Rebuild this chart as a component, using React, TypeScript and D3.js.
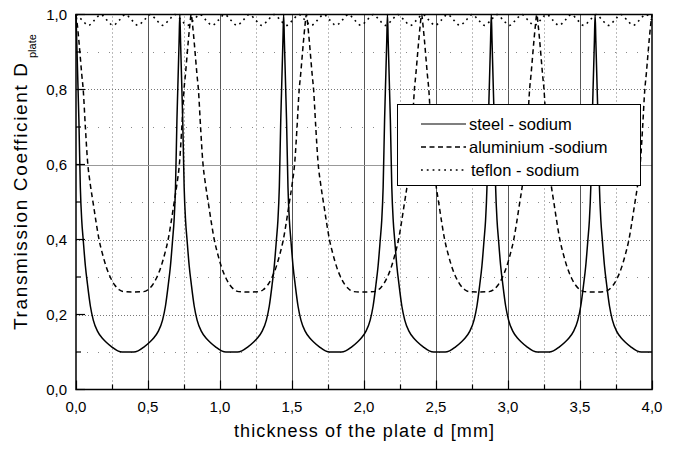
import React from 'react';
import * as d3 from 'd3';

// thickness d [mm] , transmission coefficient D
const steel: [number, number][] = [
  [0, 1], [0.005, 0.93], [0.01, 0.86], [0.015, 0.79], [0.02, 0.72], [0.03, 0.54], [0.04, 0.45], [0.05, 0.40], [0.065, 0.33], [0.08, 0.28], [0.1, 0.222], [0.12, 0.185], [0.15, 0.155], [0.18, 0.138], [0.21, 0.126], [0.25, 0.113], [0.29, 0.103], [0.32, 0.1],
  [0.401, 0.1], [0.431, 0.103], [0.471, 0.113], [0.511, 0.126], [0.541, 0.138], [0.571, 0.155], [0.601, 0.185], [0.621, 0.222], [0.641, 0.28], [0.656, 0.33], [0.671, 0.40], [0.681, 0.45], [0.691, 0.54], [0.701, 0.72], [0.706, 0.79], [0.711, 0.86], [0.716, 0.93], [0.721, 1],
  [0.726, 0.93], [0.731, 0.86], [0.736, 0.79], [0.741, 0.72], [0.751, 0.54], [0.761, 0.45], [0.771, 0.40], [0.786, 0.33], [0.801, 0.28], [0.821, 0.222], [0.841, 0.185], [0.871, 0.155], [0.901, 0.138], [0.931, 0.126], [0.971, 0.113], [1.011, 0.103], [1.041, 0.1],
  [1.122, 0.1], [1.152, 0.103], [1.192, 0.113], [1.232, 0.126], [1.262, 0.138], [1.292, 0.155], [1.322, 0.185], [1.342, 0.222], [1.362, 0.28], [1.377, 0.33], [1.392, 0.40], [1.402, 0.45], [1.412, 0.54], [1.422, 0.72], [1.427, 0.79], [1.432, 0.86], [1.437, 0.93], [1.442, 1],
  [1.447, 0.93], [1.452, 0.86], [1.457, 0.79], [1.462, 0.72], [1.472, 0.54], [1.482, 0.45], [1.492, 0.40], [1.507, 0.33], [1.522, 0.28], [1.542, 0.222], [1.562, 0.185], [1.592, 0.155], [1.622, 0.138], [1.652, 0.126], [1.692, 0.113], [1.732, 0.103], [1.762, 0.1],
  [1.843, 0.1], [1.873, 0.103], [1.913, 0.113], [1.953, 0.126], [1.983, 0.138], [2.013, 0.155], [2.043, 0.185], [2.063, 0.222], [2.083, 0.28], [2.098, 0.33], [2.113, 0.40], [2.123, 0.45], [2.133, 0.54], [2.143, 0.72], [2.148, 0.79], [2.153, 0.86], [2.158, 0.93], [2.163, 1],
  [2.168, 0.93], [2.173, 0.86], [2.178, 0.79], [2.183, 0.72], [2.193, 0.54], [2.203, 0.45], [2.213, 0.40], [2.228, 0.33], [2.243, 0.28], [2.263, 0.222], [2.283, 0.185], [2.313, 0.155], [2.343, 0.138], [2.373, 0.126], [2.413, 0.113], [2.453, 0.103], [2.483, 0.1],
  [2.564, 0.1], [2.594, 0.103], [2.634, 0.113], [2.674, 0.126], [2.704, 0.138], [2.734, 0.155], [2.764, 0.185], [2.784, 0.222], [2.804, 0.28], [2.819, 0.33], [2.834, 0.40], [2.844, 0.45], [2.854, 0.54], [2.864, 0.72], [2.869, 0.79], [2.874, 0.86], [2.879, 0.93], [2.884, 1],
  [2.889, 0.93], [2.894, 0.86], [2.899, 0.79], [2.904, 0.72], [2.914, 0.54], [2.924, 0.45], [2.934, 0.40], [2.949, 0.33], [2.964, 0.28], [2.984, 0.222], [3.004, 0.185], [3.034, 0.155], [3.064, 0.138], [3.094, 0.126], [3.134, 0.113], [3.174, 0.103], [3.204, 0.1],
  [3.285, 0.1], [3.315, 0.103], [3.355, 0.113], [3.395, 0.126], [3.425, 0.138], [3.455, 0.155], [3.485, 0.185], [3.505, 0.222], [3.525, 0.28], [3.54, 0.33], [3.555, 0.40], [3.565, 0.45], [3.575, 0.54], [3.585, 0.72], [3.59, 0.79], [3.595, 0.86], [3.6, 0.93], [3.605, 1],
  [3.61, 0.93], [3.615, 0.86], [3.62, 0.79], [3.625, 0.72], [3.635, 0.54], [3.645, 0.45], [3.655, 0.40], [3.67, 0.33], [3.685, 0.28], [3.705, 0.222], [3.725, 0.185], [3.755, 0.155], [3.785, 0.138], [3.815, 0.126], [3.855, 0.113], [3.895, 0.103], [3.925, 0.1], [4.0, 0.1],
];

const aluminium: [number, number][] = [
  [0, 1], [0.01, 0.97], [0.02, 0.93], [0.03, 0.885], [0.04, 0.84], [0.05, 0.8], [0.065, 0.7], [0.08, 0.61], [0.1, 0.545], [0.12, 0.495], [0.14, 0.445], [0.16, 0.4], [0.185, 0.36], [0.21, 0.327], [0.24, 0.298], [0.27, 0.278], [0.3, 0.266], [0.33, 0.261], [0.4, 0.26],
  [0.47, 0.261], [0.5, 0.266], [0.53, 0.278], [0.56, 0.298], [0.59, 0.327], [0.615, 0.36], [0.64, 0.4], [0.66, 0.445], [0.68, 0.495], [0.7, 0.545], [0.72, 0.61], [0.735, 0.7], [0.75, 0.8], [0.76, 0.84], [0.77, 0.885], [0.78, 0.93], [0.79, 0.97], [0.8, 1],
  [0.81, 0.97], [0.82, 0.93], [0.83, 0.885], [0.84, 0.84], [0.85, 0.8], [0.865, 0.7], [0.88, 0.61], [0.9, 0.545], [0.92, 0.495], [0.94, 0.445], [0.96, 0.4], [0.985, 0.36], [1.01, 0.327], [1.04, 0.298], [1.07, 0.278], [1.1, 0.266], [1.13, 0.261], [1.2, 0.26],
  [1.27, 0.261], [1.3, 0.266], [1.33, 0.278], [1.36, 0.298], [1.39, 0.327], [1.415, 0.36], [1.44, 0.4], [1.46, 0.445], [1.48, 0.495], [1.5, 0.545], [1.52, 0.61], [1.535, 0.7], [1.55, 0.8], [1.56, 0.84], [1.57, 0.885], [1.58, 0.93], [1.59, 0.97], [1.6, 1],
  [1.61, 0.97], [1.62, 0.93], [1.63, 0.885], [1.64, 0.84], [1.65, 0.8], [1.665, 0.7], [1.68, 0.61], [1.7, 0.545], [1.72, 0.495], [1.74, 0.445], [1.76, 0.4], [1.785, 0.36], [1.81, 0.327], [1.84, 0.298], [1.87, 0.278], [1.9, 0.266], [1.93, 0.261], [2.0, 0.26],
  [2.07, 0.261], [2.1, 0.266], [2.13, 0.278], [2.16, 0.298], [2.19, 0.327], [2.215, 0.36], [2.24, 0.4], [2.26, 0.445], [2.28, 0.495], [2.3, 0.545], [2.32, 0.61], [2.335, 0.7], [2.35, 0.8], [2.36, 0.84], [2.37, 0.885], [2.38, 0.93], [2.39, 0.97], [2.4, 1],
  [2.41, 0.97], [2.42, 0.93], [2.43, 0.885], [2.44, 0.84], [2.45, 0.8], [2.465, 0.7], [2.48, 0.61], [2.5, 0.545], [2.52, 0.495], [2.54, 0.445], [2.56, 0.4], [2.585, 0.36], [2.61, 0.327], [2.64, 0.298], [2.67, 0.278], [2.7, 0.266], [2.73, 0.261], [2.8, 0.26],
  [2.87, 0.261], [2.9, 0.266], [2.93, 0.278], [2.96, 0.298], [2.99, 0.327], [3.015, 0.36], [3.04, 0.4], [3.06, 0.445], [3.08, 0.495], [3.1, 0.545], [3.12, 0.61], [3.135, 0.7], [3.15, 0.8], [3.16, 0.84], [3.17, 0.885], [3.18, 0.93], [3.19, 0.97], [3.2, 1],
  [3.21, 0.97], [3.22, 0.93], [3.23, 0.885], [3.24, 0.84], [3.25, 0.8], [3.265, 0.7], [3.28, 0.61], [3.3, 0.545], [3.32, 0.495], [3.34, 0.445], [3.36, 0.4], [3.385, 0.36], [3.41, 0.327], [3.44, 0.298], [3.47, 0.278], [3.5, 0.266], [3.53, 0.261], [3.6, 0.26],
  [3.67, 0.261], [3.7, 0.266], [3.73, 0.278], [3.76, 0.298], [3.79, 0.327], [3.815, 0.36], [3.84, 0.4], [3.86, 0.445], [3.88, 0.495], [3.9, 0.545], [3.92, 0.61], [3.935, 0.7], [3.95, 0.8], [3.96, 0.84], [3.97, 0.885], [3.98, 0.93], [3.99, 0.97], [4.0, 1],
];

const teflon: [number, number][] = [
  [0, 1], [0.043, 0.985], [0.086, 0.971], [0.129, 0.985], [0.172, 1], [0.215, 0.985], [0.258, 0.971], [0.301, 0.985],
  [0.344, 1], [0.387, 0.985], [0.43, 0.971], [0.473, 0.985], [0.516, 1], [0.559, 0.985], [0.602, 0.971], [0.645, 0.985],
  [0.688, 1], [0.731, 0.985], [0.774, 0.971], [0.817, 0.985], [0.86, 1], [0.903, 0.985], [0.946, 0.971], [0.989, 0.985],
  [1.032, 1], [1.075, 0.985], [1.118, 0.971], [1.161, 0.985], [1.204, 1], [1.247, 0.985], [1.29, 0.971], [1.333, 0.985],
  [1.376, 1], [1.419, 0.985], [1.462, 0.971], [1.505, 0.985], [1.548, 1], [1.591, 0.985], [1.634, 0.971], [1.677, 0.985],
  [1.72, 1], [1.763, 0.985], [1.806, 0.971], [1.849, 0.985], [1.892, 1], [1.935, 0.985], [1.978, 0.971], [2.021, 0.985],
  [2.064, 1], [2.107, 0.985], [2.15, 0.971], [2.193, 0.985], [2.236, 1], [2.279, 0.985], [2.322, 0.971], [2.365, 0.985],
  [2.408, 1], [2.451, 0.985], [2.494, 0.971], [2.537, 0.985], [2.58, 1], [2.623, 0.985], [2.666, 0.971], [2.709, 0.985],
  [2.752, 1], [2.795, 0.985], [2.838, 0.971], [2.881, 0.985], [2.924, 1], [2.967, 0.985], [3.01, 0.971], [3.053, 0.985],
  [3.096, 1], [3.139, 0.985], [3.182, 0.971], [3.225, 0.985], [3.268, 1], [3.311, 0.985], [3.354, 0.971], [3.397, 0.985],
  [3.44, 1], [3.483, 0.985], [3.526, 0.971], [3.569, 0.985], [3.612, 1], [3.655, 0.985], [3.698, 0.971], [3.741, 0.985],
  [3.784, 1], [3.827, 0.985], [3.87, 0.971], [3.913, 0.985], [3.956, 1], [4.0, 0.985],
];

const xTickValues = [0, 0.5, 1, 1.5, 2, 2.5, 3, 3.5, 4];
const xTickLabels = ['0,0', '0,5', '1,0', '1,5', '2,0', '2,5', '3,0', '3,5', '4,0'];
const yTickValues = [0, 0.2, 0.4, 0.6, 0.8, 1.0];
const yTickLabels = ['0,0', '0,2', '0,4', '0,6', '0,8', '1,0'];
const xMinorValues = [0.25, 0.75, 1.25, 1.75, 2.25, 2.75, 3.25, 3.75];
const yMinorValues = [0.1, 0.3, 0.5, 0.7, 0.9];
const seriesNames = ['steel - sodium', 'aluminium -sodium', 'teflon - sodium'];
const xTitle = 'thickness of the plate d [mm]';
const yTitle = 'Transmission Coefficient D';
const ySub = 'plate';

const FONT = '"Liberation Sans", Arial, Helvetica, sans-serif';

export default function App() {
  const x = d3.scaleLinear().domain([0, 4]).range([76, 652]);
  const y = d3.scaleLinear().domain([0, 1]).range([389.5, 14.5]);
  const line = d3
    .line<[number, number]>()
    .x((d) => x(d[0]))
    .y((d) => y(d[1]))
    .curve(d3.curveMonotoneX);

  const styles = [
    { dash: undefined as string | undefined, width: 1.5 },
    { dash: '5,3.5', width: 1.5 },
    { dash: '1.8,4', width: 1.6 },
  ];
  const series = [steel, aluminium, teflon];

  const [x0, x1] = x.range();
  const [yb, yt] = y.range();

  return (
    <svg
      width={677}
      height={451}
      style={{ position: 'absolute', left: 0, top: 0, background: '#fff' }}
      fontFamily={FONT}
    >
      <rect x={0} y={0} width={677} height={451} fill="#fff" />
      {/* minor vertical grid */}
      {xMinorValues.map((v) => (
        <line key={'xm' + v} x1={x(v) + 0.5} x2={x(v) + 0.5} y1={yb} y2={yt} stroke="#777" strokeWidth={1} strokeDasharray="1,3" />
      ))}
      {/* major vertical grid */}
      {xTickValues.slice(1, -1).map((v) => (
        <line key={'xg' + v} x1={x(v) + 0.5} x2={x(v) + 0.5} y1={yb} y2={yt} stroke="#555" strokeWidth={1} />
      ))}
      {/* minor horizontal grid */}
      {yMinorValues.map((v) => (
        <line key={'ym' + v} x1={x0} x2={x1} y1={Math.round(y(v)) + 0.5} y2={Math.round(y(v)) + 0.5} stroke="#888" strokeWidth={1} strokeDasharray="1,10" />
      ))}
      {/* major horizontal grid */}
      {yTickValues.slice(1, -1).map((v) => (
        <line
          key={'yg' + v}
          x1={x0}
          x2={x1}
          y1={Math.round(y(v)) + 0.5}
          y2={Math.round(y(v)) + 0.5}
          stroke={v === 0.6 ? '#999' : '#777'}
          strokeWidth={1}
          strokeDasharray={v === 0.6 ? undefined : '1,2'}
        />
      ))}

      {/* curves */}
      {series.map((s, i) => (
        <path
          key={'s' + i}
          d={line(s) || ''}
          fill="none"
          stroke="#000"
          strokeWidth={styles[i].width}
          strokeDasharray={styles[i].dash}
          strokeLinejoin="round"
        />
      ))}

      {/* frame */}
      <rect x={x0} y={yt} width={x1 - x0} height={yb - yt} fill="none" stroke="#000" strokeWidth={1.5} />

      {/* x ticks */}
      {xTickValues.map((v) => (
        <line key={'xt' + v} x1={x(v) + 0.5} x2={x(v) + 0.5} y1={yb} y2={yb - 9} stroke="#000" strokeWidth={1.2} />
      ))}
      {xMinorValues.map((v) => (
        <line key={'xtm' + v} x1={x(v) + 0.5} x2={x(v) + 0.5} y1={yb} y2={yb - 5} stroke="#000" strokeWidth={1.2} />
      ))}
      {xTickValues.map((v, i) => (
        <text key={'xl' + v} x={x(v)} y={412} textAnchor="middle" fontSize={15} fill="#000">
          {xTickLabels[i]}
        </text>
      ))}

      {/* y ticks */}
      {yTickValues.map((v) => (
        <line key={'yt' + v} x1={x0} x2={x0 + 9} y1={y(v)} y2={y(v)} stroke="#000" strokeWidth={1.2} />
      ))}
      {yMinorValues.map((v) => (
        <line key={'ytm' + v} x1={x0} x2={x0 + 5} y1={y(v)} y2={y(v)} stroke="#000" strokeWidth={1.2} />
      ))}
      {yTickValues.map((v, i) => (
        <text key={'yl' + v} x={67} y={y(v) + 5.5} textAnchor="end" fontSize={15} fill="#000">
          {yTickLabels[i]}
        </text>
      ))}

      {/* axis titles */}
      <text x={364} y={437} textAnchor="middle" fontSize={18} textLength={260} lengthAdjust="spacing" fill="#000">
        {xTitle}
      </text>
      <text transform="translate(27,330) rotate(-90)" fontSize={19} textLength={267} lengthAdjust="spacing" fill="#000">
        {yTitle}
      </text>
      <text transform="translate(36,58) rotate(-90)" fontSize={11} fill="#000">
        {ySub}
      </text>

      {/* legend */}
      <rect x={397.5} y={104.5} width={243} height={81} fill="#fff" stroke="#000" strokeWidth={1} />
      {seriesNames.map((name, i) => {
        const cy = 124 + i * 23;
        return (
          <g key={'lg' + i}>
            <line x1={421} x2={466} y1={cy} y2={cy} stroke="#000" strokeWidth={i === 0 ? 1.2 : 1.3} strokeDasharray={styles[i].dash} />
            <text x={i === 2 ? 471 : 469} y={cy + 6} fontSize={16.5} fill="#000">
              {name}
            </text>
          </g>
        );
      })}
    </svg>
  );
}
